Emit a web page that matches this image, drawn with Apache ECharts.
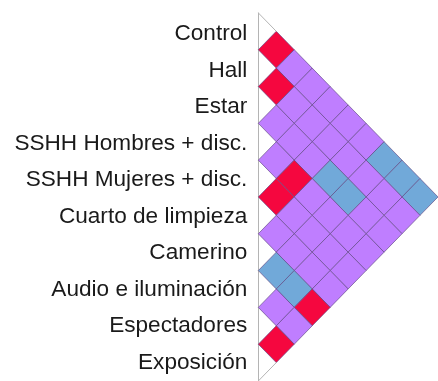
<!DOCTYPE html>
<html>
<head>
<meta charset="utf-8">
<script src="https://cdn.jsdelivr.net/npm/echarts@6/dist/echarts.min.js"></script>
<style>
  html, body { margin: 0; padding: 0; background: #fff; }
  #chart { width: 438px; height: 381px; }
</style>
</head>
<body>
<div id="chart"></div>
<script>
// rooms, top to bottom
const rooms = [
  'Control',
  'Hall',
  'Estar',
  'SSHH Hombres + disc.',
  'SSHH Mujeres + disc.',
  'Cuarto de limpieza',
  'Camerino',
  'Audio e iluminación',
  'Espectadores',
  'Exposición'
];

// relation of room i with rooms i+1 .. 9
// R = red, P = purple, B = blue
const relControl      = ['R', 'P', 'P', 'P', 'P', 'P', 'B', 'B', 'B'];
const relHall         = ['R', 'P', 'P', 'P', 'P', 'P', 'P', 'P'];
const relEstar        = ['P', 'P', 'P', 'B', 'B', 'P', 'P'];
const relSSHHHombres  = ['P', 'R', 'P', 'P', 'P', 'P'];
const relSSHHMujeres  = ['R', 'P', 'P', 'P', 'P'];
const relLimpieza     = ['P', 'P', 'P', 'P'];
const relCamerino     = ['B', 'B', 'R'];
const relAudio        = ['P', 'P'];
const relEspectadores = ['R'];

const relations = [
  relControl, relHall, relEstar, relSSHHHombres, relSSHHMujeres,
  relLimpieza, relCamerino, relAudio, relEspectadores
];

const colors = { R: '#F5073F', P: '#BF7EFF', B: '#71A9D9' };

// cell (i, j) sits at x = j - i, y = i + j (half-row units)
const cells = [];
relations.forEach((row, i) => {
  row.forEach((code, k) => {
    const j = i + 1 + k;
    cells.push([j - i, i + j, code]);
  });
});

const chart = echarts.init(document.getElementById('chart'));

chart.setOption({
  animation: false,
  grid: [
    { left: 258.3, top: 12.9, width: 185.5, height: 371 },
    // labels only, sit a little lower than the rows
    { left: 258.3, top: 15.9, width: 185.5, height: 371 }
  ],
  xAxis: [
    { type: 'value', gridIndex: 0, min: 0, max: 10, show: false },
    { type: 'value', gridIndex: 1, min: 0, max: 10, show: false }
  ],
  yAxis: [
    {
      type: 'value',
      gridIndex: 0,
      min: -1,
      max: 19,
      inverse: true,
      axisLine: { show: true, lineStyle: { color: '#b4b4b4', width: 1 } },
      axisTick: { show: false },
      axisLabel: { show: false },
      splitLine: { show: false }
    },
    {
      type: 'category',
      gridIndex: 1,
      data: rooms,
      inverse: true,
      axisLine: { show: false },
      axisTick: { show: false },
      splitLine: { show: false },
      axisLabel: {
        margin: 11,
        color: '#1a1a1a',
        fontSize: 22.6,
        fontFamily: 'Liberation Sans, Arial, sans-serif'
      }
    }
  ],
  series: [
    {
      type: 'custom',
      xAxisIndex: 0,
      yAxisIndex: 0,
      data: cells,
      renderItem: (params, api) => {
        const x = api.value(0);
        const y = api.value(1);
        const pts = [
          api.coord([x - 1, y]),
          api.coord([x, y - 1]),
          api.coord([x + 1, y]),
          api.coord([x, y + 1])
        ];
        return {
          type: 'polygon',
          shape: { points: pts },
          style: {
            fill: colors[cells[params.dataIndex][2]],
            stroke: 'rgba(95,70,130,0.65)',
            lineWidth: 1
          }
        };
      }
    },
    {
      // outline edges at the top and bottom of the triangle
      type: 'custom',
      xAxisIndex: 0,
      yAxisIndex: 0,
      data: [[0, -1, 1, 0], [0, 19, 1, 18]],
      renderItem: (params, api) => {
        const a = api.coord([api.value(0), api.value(1)]);
        const b = api.coord([api.value(2), api.value(3)]);
        return {
          type: 'line',
          shape: { x1: a[0], y1: a[1], x2: b[0], y2: b[1] },
          style: { stroke: '#b4b4b4', lineWidth: 1 }
        };
      }
    }
  ]
});
</script>
</body>
</html>
